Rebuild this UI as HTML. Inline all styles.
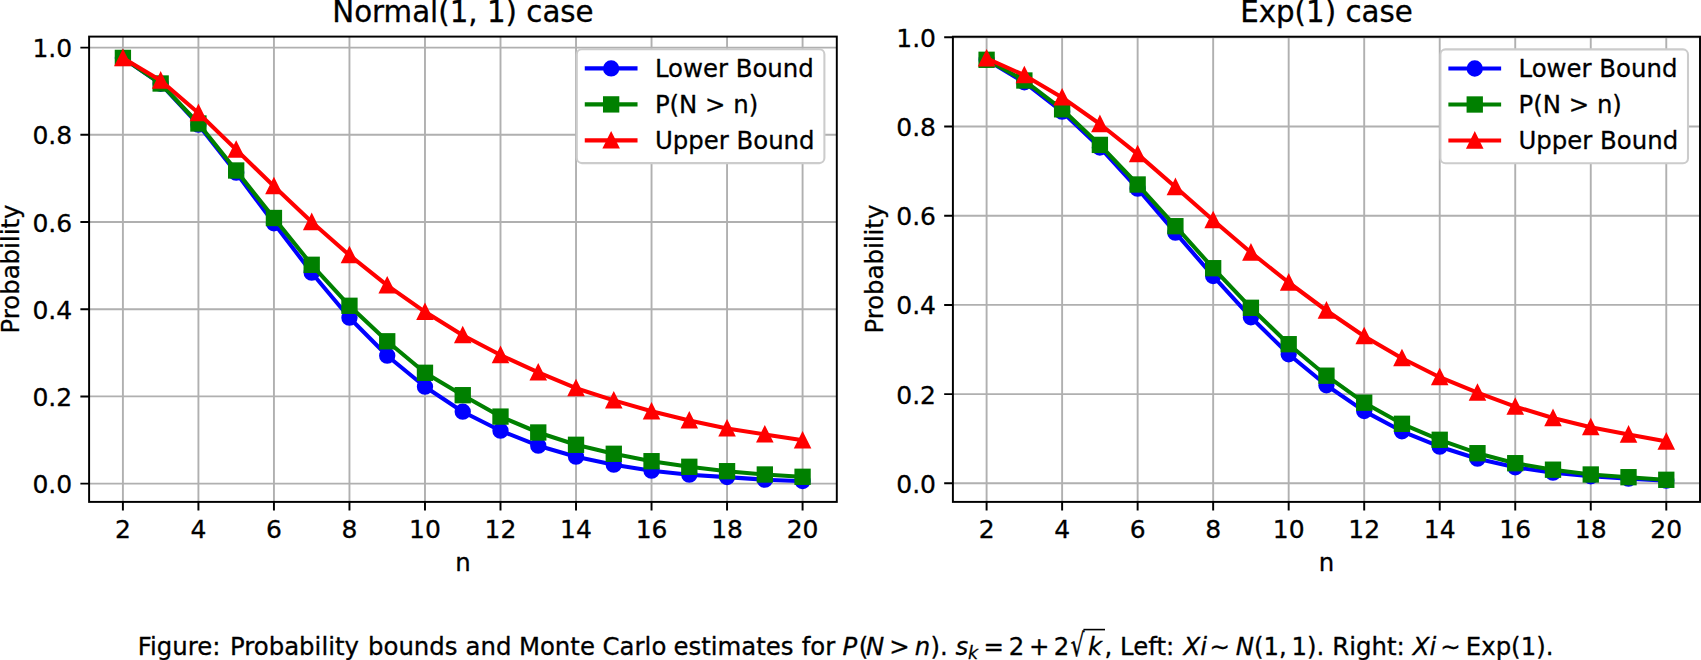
<!DOCTYPE html>
<html lang="en"><head><meta charset="utf-8"><title>Figure: Probability bounds and Monte Carlo estimates</title>
<style>
html,body{margin:0;padding:0;background:#fff;}
body{width:1701px;height:660px;overflow:hidden;}
svg{display:block;}
svg text{font-family:"DejaVu Sans", "Liberation Sans", sans-serif;fill:#000;stroke:#000;stroke-width:0.3px;stroke-linejoin:round;}
</style></head><body>
<svg width="1701" height="660" viewBox="0 0 1701 660">
<rect width="1701" height="660" fill="#fff"/>
<g id="axes-left">
<rect x="89.1" y="36.6" width="747.7" height="465.3" fill="#fff"/>
<path d="M122.9 36.6V501.9M198.42 36.6V501.9M273.94 36.6V501.9M349.46 36.6V501.9M424.98 36.6V501.9M500.5 36.6V501.9M576.02 36.6V501.9M651.54 36.6V501.9M727.06 36.6V501.9M802.58 36.6V501.9M89.1 483.6H836.8M89.1 396.4H836.8M89.1 309.2H836.8M89.1 222H836.8M89.1 134.8H836.8M89.1 47.6H836.8" stroke="#b0b0b0" stroke-width="1.9" fill="none"/>
<path d="M122.9 501.9v8.72M198.42 501.9v8.72M273.94 501.9v8.72M349.46 501.9v8.72M424.98 501.9v8.72M500.5 501.9v8.72M576.02 501.9v8.72M651.54 501.9v8.72M727.06 501.9v8.72M802.58 501.9v8.72M89.1 483.6h-8.72M89.1 396.4h-8.72M89.1 309.2h-8.72M89.1 222h-8.72M89.1 134.8h-8.72M89.1 47.6h-8.72" stroke="#000" stroke-width="1.95" fill="none"/>
<polyline points="122.9,57.9 160.66,83.8 198.42,124.7 236.18,172.7 273.94,223.3 311.7,272.7 349.46,317.7 387.22,355.7 424.98,386.7 462.74,411.7 500.5,430.7 538.26,445.7 576.02,456.7 613.78,464.7 651.54,470.7 689.3,474.7 727.06,477.1 764.82,479.7 802.58,481.1" fill="none" stroke="#0000ff" stroke-width="4.07" stroke-linejoin="round" stroke-linecap="square"/>
<circle cx="122.9" cy="57.9" r="7.15" fill="#0000ff" stroke="#0000ff" stroke-width="2.03"/>
<circle cx="160.66" cy="83.8" r="7.15" fill="#0000ff" stroke="#0000ff" stroke-width="2.03"/>
<circle cx="198.42" cy="124.7" r="7.15" fill="#0000ff" stroke="#0000ff" stroke-width="2.03"/>
<circle cx="236.18" cy="172.7" r="7.15" fill="#0000ff" stroke="#0000ff" stroke-width="2.03"/>
<circle cx="273.94" cy="223.3" r="7.15" fill="#0000ff" stroke="#0000ff" stroke-width="2.03"/>
<circle cx="311.7" cy="272.7" r="7.15" fill="#0000ff" stroke="#0000ff" stroke-width="2.03"/>
<circle cx="349.46" cy="317.7" r="7.15" fill="#0000ff" stroke="#0000ff" stroke-width="2.03"/>
<circle cx="387.22" cy="355.7" r="7.15" fill="#0000ff" stroke="#0000ff" stroke-width="2.03"/>
<circle cx="424.98" cy="386.7" r="7.15" fill="#0000ff" stroke="#0000ff" stroke-width="2.03"/>
<circle cx="462.74" cy="411.7" r="7.15" fill="#0000ff" stroke="#0000ff" stroke-width="2.03"/>
<circle cx="500.5" cy="430.7" r="7.15" fill="#0000ff" stroke="#0000ff" stroke-width="2.03"/>
<circle cx="538.26" cy="445.7" r="7.15" fill="#0000ff" stroke="#0000ff" stroke-width="2.03"/>
<circle cx="576.02" cy="456.7" r="7.15" fill="#0000ff" stroke="#0000ff" stroke-width="2.03"/>
<circle cx="613.78" cy="464.7" r="7.15" fill="#0000ff" stroke="#0000ff" stroke-width="2.03"/>
<circle cx="651.54" cy="470.7" r="7.15" fill="#0000ff" stroke="#0000ff" stroke-width="2.03"/>
<circle cx="689.3" cy="474.7" r="7.15" fill="#0000ff" stroke="#0000ff" stroke-width="2.03"/>
<circle cx="727.06" cy="477.1" r="7.15" fill="#0000ff" stroke="#0000ff" stroke-width="2.03"/>
<circle cx="764.82" cy="479.7" r="7.15" fill="#0000ff" stroke="#0000ff" stroke-width="2.03"/>
<circle cx="802.58" cy="481.1" r="7.15" fill="#0000ff" stroke="#0000ff" stroke-width="2.03"/>
<polyline points="122.9,57.9 160.66,83.5 198.42,123.5 236.18,170.5 273.94,218 311.7,264.8 349.46,305.8 387.22,341.3 424.98,372.8 462.74,395.2 500.5,416.6 538.26,432.5 576.02,444.8 613.78,453.8 651.54,461.2 689.3,466.8 727.06,471.2 764.82,474.5 802.58,476.8" fill="none" stroke="#008000" stroke-width="4.07" stroke-linejoin="round" stroke-linecap="square"/>
<rect x="115.75" y="50.75" width="14.3" height="14.3" fill="#008000" stroke="#008000" stroke-width="2.03" stroke-linejoin="miter"/>
<rect x="153.51" y="76.35" width="14.3" height="14.3" fill="#008000" stroke="#008000" stroke-width="2.03" stroke-linejoin="miter"/>
<rect x="191.27" y="116.35" width="14.3" height="14.3" fill="#008000" stroke="#008000" stroke-width="2.03" stroke-linejoin="miter"/>
<rect x="229.03" y="163.35" width="14.3" height="14.3" fill="#008000" stroke="#008000" stroke-width="2.03" stroke-linejoin="miter"/>
<rect x="266.79" y="210.85" width="14.3" height="14.3" fill="#008000" stroke="#008000" stroke-width="2.03" stroke-linejoin="miter"/>
<rect x="304.55" y="257.65" width="14.3" height="14.3" fill="#008000" stroke="#008000" stroke-width="2.03" stroke-linejoin="miter"/>
<rect x="342.31" y="298.65" width="14.3" height="14.3" fill="#008000" stroke="#008000" stroke-width="2.03" stroke-linejoin="miter"/>
<rect x="380.07" y="334.15" width="14.3" height="14.3" fill="#008000" stroke="#008000" stroke-width="2.03" stroke-linejoin="miter"/>
<rect x="417.83" y="365.65" width="14.3" height="14.3" fill="#008000" stroke="#008000" stroke-width="2.03" stroke-linejoin="miter"/>
<rect x="455.59" y="388.05" width="14.3" height="14.3" fill="#008000" stroke="#008000" stroke-width="2.03" stroke-linejoin="miter"/>
<rect x="493.35" y="409.45" width="14.3" height="14.3" fill="#008000" stroke="#008000" stroke-width="2.03" stroke-linejoin="miter"/>
<rect x="531.11" y="425.35" width="14.3" height="14.3" fill="#008000" stroke="#008000" stroke-width="2.03" stroke-linejoin="miter"/>
<rect x="568.87" y="437.65" width="14.3" height="14.3" fill="#008000" stroke="#008000" stroke-width="2.03" stroke-linejoin="miter"/>
<rect x="606.63" y="446.65" width="14.3" height="14.3" fill="#008000" stroke="#008000" stroke-width="2.03" stroke-linejoin="miter"/>
<rect x="644.39" y="454.05" width="14.3" height="14.3" fill="#008000" stroke="#008000" stroke-width="2.03" stroke-linejoin="miter"/>
<rect x="682.15" y="459.65" width="14.3" height="14.3" fill="#008000" stroke="#008000" stroke-width="2.03" stroke-linejoin="miter"/>
<rect x="719.91" y="464.05" width="14.3" height="14.3" fill="#008000" stroke="#008000" stroke-width="2.03" stroke-linejoin="miter"/>
<rect x="757.67" y="467.35" width="14.3" height="14.3" fill="#008000" stroke="#008000" stroke-width="2.03" stroke-linejoin="miter"/>
<rect x="795.43" y="469.65" width="14.3" height="14.3" fill="#008000" stroke="#008000" stroke-width="2.03" stroke-linejoin="miter"/>
<polyline points="122.9,58 160.66,80.5 198.42,113 236.18,149.6 273.94,186.2 311.7,222 349.46,255.2 387.22,285.4 424.98,311.8 462.74,335.2 500.5,355 538.26,372.4 576.02,388.2 613.78,400.4 651.54,411.3 689.3,420.4 727.06,428.4 764.82,434.4 802.58,440.3" fill="none" stroke="#ff0000" stroke-width="4.07" stroke-linejoin="round" stroke-linecap="square"/>
<path d="M122.9 50.85L115.75 65.15L130.05 65.15Z" fill="#ff0000" stroke="#ff0000" stroke-width="2.03" stroke-linejoin="miter" stroke-miterlimit="10"/>
<path d="M160.66 73.35L153.51 87.65L167.81 87.65Z" fill="#ff0000" stroke="#ff0000" stroke-width="2.03" stroke-linejoin="miter" stroke-miterlimit="10"/>
<path d="M198.42 105.85L191.27 120.15L205.57 120.15Z" fill="#ff0000" stroke="#ff0000" stroke-width="2.03" stroke-linejoin="miter" stroke-miterlimit="10"/>
<path d="M236.18 142.45L229.03 156.75L243.33 156.75Z" fill="#ff0000" stroke="#ff0000" stroke-width="2.03" stroke-linejoin="miter" stroke-miterlimit="10"/>
<path d="M273.94 179.05L266.79 193.35L281.09 193.35Z" fill="#ff0000" stroke="#ff0000" stroke-width="2.03" stroke-linejoin="miter" stroke-miterlimit="10"/>
<path d="M311.7 214.85L304.55 229.15L318.85 229.15Z" fill="#ff0000" stroke="#ff0000" stroke-width="2.03" stroke-linejoin="miter" stroke-miterlimit="10"/>
<path d="M349.46 248.05L342.31 262.35L356.61 262.35Z" fill="#ff0000" stroke="#ff0000" stroke-width="2.03" stroke-linejoin="miter" stroke-miterlimit="10"/>
<path d="M387.22 278.25L380.07 292.55L394.37 292.55Z" fill="#ff0000" stroke="#ff0000" stroke-width="2.03" stroke-linejoin="miter" stroke-miterlimit="10"/>
<path d="M424.98 304.65L417.83 318.95L432.13 318.95Z" fill="#ff0000" stroke="#ff0000" stroke-width="2.03" stroke-linejoin="miter" stroke-miterlimit="10"/>
<path d="M462.74 328.05L455.59 342.35L469.89 342.35Z" fill="#ff0000" stroke="#ff0000" stroke-width="2.03" stroke-linejoin="miter" stroke-miterlimit="10"/>
<path d="M500.5 347.85L493.35 362.15L507.65 362.15Z" fill="#ff0000" stroke="#ff0000" stroke-width="2.03" stroke-linejoin="miter" stroke-miterlimit="10"/>
<path d="M538.26 365.25L531.11 379.55L545.41 379.55Z" fill="#ff0000" stroke="#ff0000" stroke-width="2.03" stroke-linejoin="miter" stroke-miterlimit="10"/>
<path d="M576.02 381.05L568.87 395.35L583.17 395.35Z" fill="#ff0000" stroke="#ff0000" stroke-width="2.03" stroke-linejoin="miter" stroke-miterlimit="10"/>
<path d="M613.78 393.25L606.63 407.55L620.93 407.55Z" fill="#ff0000" stroke="#ff0000" stroke-width="2.03" stroke-linejoin="miter" stroke-miterlimit="10"/>
<path d="M651.54 404.15L644.39 418.45L658.69 418.45Z" fill="#ff0000" stroke="#ff0000" stroke-width="2.03" stroke-linejoin="miter" stroke-miterlimit="10"/>
<path d="M689.3 413.25L682.15 427.55L696.45 427.55Z" fill="#ff0000" stroke="#ff0000" stroke-width="2.03" stroke-linejoin="miter" stroke-miterlimit="10"/>
<path d="M727.06 421.25L719.91 435.55L734.21 435.55Z" fill="#ff0000" stroke="#ff0000" stroke-width="2.03" stroke-linejoin="miter" stroke-miterlimit="10"/>
<path d="M764.82 427.25L757.67 441.55L771.97 441.55Z" fill="#ff0000" stroke="#ff0000" stroke-width="2.03" stroke-linejoin="miter" stroke-miterlimit="10"/>
<path d="M802.58 433.15L795.43 447.45L809.73 447.45Z" fill="#ff0000" stroke="#ff0000" stroke-width="2.03" stroke-linejoin="miter" stroke-miterlimit="10"/>
<rect x="89.1" y="36.6" width="747.7" height="465.3" fill="none" stroke="#000" stroke-width="1.95" stroke-linejoin="miter"/>
<text x="122.9" y="537.7" font-size="25" text-anchor="middle">2</text>
<text x="198.42" y="537.7" font-size="25" text-anchor="middle">4</text>
<text x="273.94" y="537.7" font-size="25" text-anchor="middle">6</text>
<text x="349.46" y="537.7" font-size="25" text-anchor="middle">8</text>
<text x="424.98" y="537.7" font-size="25" text-anchor="middle">10</text>
<text x="500.5" y="537.7" font-size="25" text-anchor="middle">12</text>
<text x="576.02" y="537.7" font-size="25" text-anchor="middle">14</text>
<text x="651.54" y="537.7" font-size="25" text-anchor="middle">16</text>
<text x="727.06" y="537.7" font-size="25" text-anchor="middle">18</text>
<text x="802.58" y="537.7" font-size="25" text-anchor="middle">20</text>
<text x="72.2" y="493.1" font-size="25" text-anchor="end">0.0</text>
<text x="72.2" y="405.9" font-size="25" text-anchor="end">0.2</text>
<text x="72.2" y="318.7" font-size="25" text-anchor="end">0.4</text>
<text x="72.2" y="231.5" font-size="25" text-anchor="end">0.6</text>
<text x="72.2" y="144.3" font-size="25" text-anchor="end">0.8</text>
<text x="72.2" y="57.1" font-size="25" text-anchor="end">1.0</text>
<text x="462.95" y="571" font-size="24.4" text-anchor="middle">n</text>
<text x="462.95" y="22.2" font-size="29.3" text-anchor="middle">Normal(1, 1) case</text>
<text transform="translate(18.8 269.05) rotate(-90)" font-size="24.4" text-anchor="middle">Probability</text>
<rect x="576.8" y="49.3" width="247.6" height="113.8" rx="5" ry="5" fill="#fff" stroke="#ccc" stroke-width="2.08"/>
<line x1="586.8" y1="68.4" x2="635.5" y2="68.4" stroke="#0000ff" stroke-width="4.07" stroke-linecap="square"/>
<circle cx="611.15" cy="68.4" r="7.15" fill="#0000ff" stroke="#0000ff" stroke-width="2.03"/>
<text x="654.9" y="77.1" font-size="24.4">Lower Bound</text>
<line x1="586.8" y1="104.4" x2="635.5" y2="104.4" stroke="#008000" stroke-width="4.07" stroke-linecap="square"/>
<rect x="604" y="97.25" width="14.3" height="14.3" fill="#008000" stroke="#008000" stroke-width="2.03" stroke-linejoin="miter"/>
<text x="654.9" y="113.1" font-size="24.4">P(N &gt; n)</text>
<line x1="586.8" y1="140.4" x2="635.5" y2="140.4" stroke="#ff0000" stroke-width="4.07" stroke-linecap="square"/>
<path d="M611.15 133.25L604 147.55L618.3 147.55Z" fill="#ff0000" stroke="#ff0000" stroke-width="2.03" stroke-linejoin="miter" stroke-miterlimit="10"/>
<text x="654.9" y="149.1" font-size="24.4">Upper Bound</text>
</g>
<g id="axes-right">
<rect x="952.9" y="36.7" width="747.1" height="465.2" fill="#fff"/>
<path d="M986.6 36.7V501.9M1062.12 36.7V501.9M1137.64 36.7V501.9M1213.16 36.7V501.9M1288.68 36.7V501.9M1364.2 36.7V501.9M1439.72 36.7V501.9M1515.24 36.7V501.9M1590.76 36.7V501.9M1666.28 36.7V501.9M952.9 483.3H1700M952.9 394.1H1700M952.9 304.9H1700M952.9 215.7H1700M952.9 126.5H1700M952.9 37.3H1700" stroke="#b0b0b0" stroke-width="1.9" fill="none"/>
<path d="M986.6 501.9v8.72M1062.12 501.9v8.72M1137.64 501.9v8.72M1213.16 501.9v8.72M1288.68 501.9v8.72M1364.2 501.9v8.72M1439.72 501.9v8.72M1515.24 501.9v8.72M1590.76 501.9v8.72M1666.28 501.9v8.72M952.9 483.3h-8.72M952.9 394.1h-8.72M952.9 304.9h-8.72M952.9 215.7h-8.72M952.9 126.5h-8.72M952.9 37.3h-8.72" stroke="#000" stroke-width="1.95" fill="none"/>
<polyline points="986.6,59.8 1024.36,82.3 1062.12,111.7 1099.88,147.5 1137.64,188.7 1175.4,232.7 1213.16,276.1 1250.92,317.3 1288.68,354.3 1326.44,385.3 1364.2,411.1 1401.96,431.3 1439.72,446.7 1477.48,458.7 1515.24,467.3 1553,472.7 1590.76,476.3 1628.52,478.7 1666.28,480.7" fill="none" stroke="#0000ff" stroke-width="4.07" stroke-linejoin="round" stroke-linecap="square"/>
<circle cx="986.6" cy="59.8" r="7.15" fill="#0000ff" stroke="#0000ff" stroke-width="2.03"/>
<circle cx="1024.36" cy="82.3" r="7.15" fill="#0000ff" stroke="#0000ff" stroke-width="2.03"/>
<circle cx="1062.12" cy="111.7" r="7.15" fill="#0000ff" stroke="#0000ff" stroke-width="2.03"/>
<circle cx="1099.88" cy="147.5" r="7.15" fill="#0000ff" stroke="#0000ff" stroke-width="2.03"/>
<circle cx="1137.64" cy="188.7" r="7.15" fill="#0000ff" stroke="#0000ff" stroke-width="2.03"/>
<circle cx="1175.4" cy="232.7" r="7.15" fill="#0000ff" stroke="#0000ff" stroke-width="2.03"/>
<circle cx="1213.16" cy="276.1" r="7.15" fill="#0000ff" stroke="#0000ff" stroke-width="2.03"/>
<circle cx="1250.92" cy="317.3" r="7.15" fill="#0000ff" stroke="#0000ff" stroke-width="2.03"/>
<circle cx="1288.68" cy="354.3" r="7.15" fill="#0000ff" stroke="#0000ff" stroke-width="2.03"/>
<circle cx="1326.44" cy="385.3" r="7.15" fill="#0000ff" stroke="#0000ff" stroke-width="2.03"/>
<circle cx="1364.2" cy="411.1" r="7.15" fill="#0000ff" stroke="#0000ff" stroke-width="2.03"/>
<circle cx="1401.96" cy="431.3" r="7.15" fill="#0000ff" stroke="#0000ff" stroke-width="2.03"/>
<circle cx="1439.72" cy="446.7" r="7.15" fill="#0000ff" stroke="#0000ff" stroke-width="2.03"/>
<circle cx="1477.48" cy="458.7" r="7.15" fill="#0000ff" stroke="#0000ff" stroke-width="2.03"/>
<circle cx="1515.24" cy="467.3" r="7.15" fill="#0000ff" stroke="#0000ff" stroke-width="2.03"/>
<circle cx="1553" cy="472.7" r="7.15" fill="#0000ff" stroke="#0000ff" stroke-width="2.03"/>
<circle cx="1590.76" cy="476.3" r="7.15" fill="#0000ff" stroke="#0000ff" stroke-width="2.03"/>
<circle cx="1628.52" cy="478.7" r="7.15" fill="#0000ff" stroke="#0000ff" stroke-width="2.03"/>
<circle cx="1666.28" cy="480.7" r="7.15" fill="#0000ff" stroke="#0000ff" stroke-width="2.03"/>
<polyline points="986.6,59.8 1024.36,80.5 1062.12,109.3 1099.88,144.9 1137.64,184.5 1175.4,226.2 1213.16,268.2 1250.92,307.8 1288.68,344.2 1326.44,375.7 1364.2,402.7 1401.96,423.8 1439.72,439.8 1477.48,453.2 1515.24,463.2 1553,469.7 1590.76,474.5 1628.52,477.2 1666.28,479.8" fill="none" stroke="#008000" stroke-width="4.07" stroke-linejoin="round" stroke-linecap="square"/>
<rect x="979.45" y="52.65" width="14.3" height="14.3" fill="#008000" stroke="#008000" stroke-width="2.03" stroke-linejoin="miter"/>
<rect x="1017.21" y="73.35" width="14.3" height="14.3" fill="#008000" stroke="#008000" stroke-width="2.03" stroke-linejoin="miter"/>
<rect x="1054.97" y="102.15" width="14.3" height="14.3" fill="#008000" stroke="#008000" stroke-width="2.03" stroke-linejoin="miter"/>
<rect x="1092.73" y="137.75" width="14.3" height="14.3" fill="#008000" stroke="#008000" stroke-width="2.03" stroke-linejoin="miter"/>
<rect x="1130.49" y="177.35" width="14.3" height="14.3" fill="#008000" stroke="#008000" stroke-width="2.03" stroke-linejoin="miter"/>
<rect x="1168.25" y="219.05" width="14.3" height="14.3" fill="#008000" stroke="#008000" stroke-width="2.03" stroke-linejoin="miter"/>
<rect x="1206.01" y="261.05" width="14.3" height="14.3" fill="#008000" stroke="#008000" stroke-width="2.03" stroke-linejoin="miter"/>
<rect x="1243.77" y="300.65" width="14.3" height="14.3" fill="#008000" stroke="#008000" stroke-width="2.03" stroke-linejoin="miter"/>
<rect x="1281.53" y="337.05" width="14.3" height="14.3" fill="#008000" stroke="#008000" stroke-width="2.03" stroke-linejoin="miter"/>
<rect x="1319.29" y="368.55" width="14.3" height="14.3" fill="#008000" stroke="#008000" stroke-width="2.03" stroke-linejoin="miter"/>
<rect x="1357.05" y="395.55" width="14.3" height="14.3" fill="#008000" stroke="#008000" stroke-width="2.03" stroke-linejoin="miter"/>
<rect x="1394.81" y="416.65" width="14.3" height="14.3" fill="#008000" stroke="#008000" stroke-width="2.03" stroke-linejoin="miter"/>
<rect x="1432.57" y="432.65" width="14.3" height="14.3" fill="#008000" stroke="#008000" stroke-width="2.03" stroke-linejoin="miter"/>
<rect x="1470.33" y="446.05" width="14.3" height="14.3" fill="#008000" stroke="#008000" stroke-width="2.03" stroke-linejoin="miter"/>
<rect x="1508.09" y="456.05" width="14.3" height="14.3" fill="#008000" stroke="#008000" stroke-width="2.03" stroke-linejoin="miter"/>
<rect x="1545.85" y="462.55" width="14.3" height="14.3" fill="#008000" stroke="#008000" stroke-width="2.03" stroke-linejoin="miter"/>
<rect x="1583.61" y="467.35" width="14.3" height="14.3" fill="#008000" stroke="#008000" stroke-width="2.03" stroke-linejoin="miter"/>
<rect x="1621.37" y="470.05" width="14.3" height="14.3" fill="#008000" stroke="#008000" stroke-width="2.03" stroke-linejoin="miter"/>
<rect x="1659.13" y="472.65" width="14.3" height="14.3" fill="#008000" stroke="#008000" stroke-width="2.03" stroke-linejoin="miter"/>
<polyline points="986.6,58.4 1024.36,75.2 1062.12,97.4 1099.88,124 1137.64,154.1 1175.4,187 1213.16,220.2 1250.92,252.5 1288.68,282.5 1326.44,310.5 1364.2,336.2 1401.96,358.2 1439.72,377.2 1477.48,392.7 1515.24,406.6 1553,418 1590.76,427.2 1628.52,434.5 1666.28,441.5" fill="none" stroke="#ff0000" stroke-width="4.07" stroke-linejoin="round" stroke-linecap="square"/>
<path d="M986.6 51.25L979.45 65.55L993.75 65.55Z" fill="#ff0000" stroke="#ff0000" stroke-width="2.03" stroke-linejoin="miter" stroke-miterlimit="10"/>
<path d="M1024.36 68.05L1017.21 82.35L1031.51 82.35Z" fill="#ff0000" stroke="#ff0000" stroke-width="2.03" stroke-linejoin="miter" stroke-miterlimit="10"/>
<path d="M1062.12 90.25L1054.97 104.55L1069.27 104.55Z" fill="#ff0000" stroke="#ff0000" stroke-width="2.03" stroke-linejoin="miter" stroke-miterlimit="10"/>
<path d="M1099.88 116.85L1092.73 131.15L1107.03 131.15Z" fill="#ff0000" stroke="#ff0000" stroke-width="2.03" stroke-linejoin="miter" stroke-miterlimit="10"/>
<path d="M1137.64 146.95L1130.49 161.25L1144.79 161.25Z" fill="#ff0000" stroke="#ff0000" stroke-width="2.03" stroke-linejoin="miter" stroke-miterlimit="10"/>
<path d="M1175.4 179.85L1168.25 194.15L1182.55 194.15Z" fill="#ff0000" stroke="#ff0000" stroke-width="2.03" stroke-linejoin="miter" stroke-miterlimit="10"/>
<path d="M1213.16 213.05L1206.01 227.35L1220.31 227.35Z" fill="#ff0000" stroke="#ff0000" stroke-width="2.03" stroke-linejoin="miter" stroke-miterlimit="10"/>
<path d="M1250.92 245.35L1243.77 259.65L1258.07 259.65Z" fill="#ff0000" stroke="#ff0000" stroke-width="2.03" stroke-linejoin="miter" stroke-miterlimit="10"/>
<path d="M1288.68 275.35L1281.53 289.65L1295.83 289.65Z" fill="#ff0000" stroke="#ff0000" stroke-width="2.03" stroke-linejoin="miter" stroke-miterlimit="10"/>
<path d="M1326.44 303.35L1319.29 317.65L1333.59 317.65Z" fill="#ff0000" stroke="#ff0000" stroke-width="2.03" stroke-linejoin="miter" stroke-miterlimit="10"/>
<path d="M1364.2 329.05L1357.05 343.35L1371.35 343.35Z" fill="#ff0000" stroke="#ff0000" stroke-width="2.03" stroke-linejoin="miter" stroke-miterlimit="10"/>
<path d="M1401.96 351.05L1394.81 365.35L1409.11 365.35Z" fill="#ff0000" stroke="#ff0000" stroke-width="2.03" stroke-linejoin="miter" stroke-miterlimit="10"/>
<path d="M1439.72 370.05L1432.57 384.35L1446.87 384.35Z" fill="#ff0000" stroke="#ff0000" stroke-width="2.03" stroke-linejoin="miter" stroke-miterlimit="10"/>
<path d="M1477.48 385.55L1470.33 399.85L1484.63 399.85Z" fill="#ff0000" stroke="#ff0000" stroke-width="2.03" stroke-linejoin="miter" stroke-miterlimit="10"/>
<path d="M1515.24 399.45L1508.09 413.75L1522.39 413.75Z" fill="#ff0000" stroke="#ff0000" stroke-width="2.03" stroke-linejoin="miter" stroke-miterlimit="10"/>
<path d="M1553 410.85L1545.85 425.15L1560.15 425.15Z" fill="#ff0000" stroke="#ff0000" stroke-width="2.03" stroke-linejoin="miter" stroke-miterlimit="10"/>
<path d="M1590.76 420.05L1583.61 434.35L1597.91 434.35Z" fill="#ff0000" stroke="#ff0000" stroke-width="2.03" stroke-linejoin="miter" stroke-miterlimit="10"/>
<path d="M1628.52 427.35L1621.37 441.65L1635.67 441.65Z" fill="#ff0000" stroke="#ff0000" stroke-width="2.03" stroke-linejoin="miter" stroke-miterlimit="10"/>
<path d="M1666.28 434.35L1659.13 448.65L1673.43 448.65Z" fill="#ff0000" stroke="#ff0000" stroke-width="2.03" stroke-linejoin="miter" stroke-miterlimit="10"/>
<rect x="952.9" y="36.7" width="747.1" height="465.2" fill="none" stroke="#000" stroke-width="1.95" stroke-linejoin="miter"/>
<text x="986.6" y="537.7" font-size="25" text-anchor="middle">2</text>
<text x="1062.12" y="537.7" font-size="25" text-anchor="middle">4</text>
<text x="1137.64" y="537.7" font-size="25" text-anchor="middle">6</text>
<text x="1213.16" y="537.7" font-size="25" text-anchor="middle">8</text>
<text x="1288.68" y="537.7" font-size="25" text-anchor="middle">10</text>
<text x="1364.2" y="537.7" font-size="25" text-anchor="middle">12</text>
<text x="1439.72" y="537.7" font-size="25" text-anchor="middle">14</text>
<text x="1515.24" y="537.7" font-size="25" text-anchor="middle">16</text>
<text x="1590.76" y="537.7" font-size="25" text-anchor="middle">18</text>
<text x="1666.28" y="537.7" font-size="25" text-anchor="middle">20</text>
<text x="936" y="492.8" font-size="25" text-anchor="end">0.0</text>
<text x="936" y="403.6" font-size="25" text-anchor="end">0.2</text>
<text x="936" y="314.4" font-size="25" text-anchor="end">0.4</text>
<text x="936" y="225.2" font-size="25" text-anchor="end">0.6</text>
<text x="936" y="136" font-size="25" text-anchor="end">0.8</text>
<text x="936" y="46.8" font-size="25" text-anchor="end">1.0</text>
<text x="1326.45" y="571" font-size="24.4" text-anchor="middle">n</text>
<text x="1326.45" y="22.2" font-size="29.3" text-anchor="middle">Exp(1) case</text>
<text transform="translate(882.6 269.1) rotate(-90)" font-size="24.4" text-anchor="middle">Probability</text>
<rect x="1440.4" y="49.4" width="247.6" height="113.8" rx="5" ry="5" fill="#fff" stroke="#ccc" stroke-width="2.08"/>
<line x1="1450.4" y1="68.5" x2="1499.1" y2="68.5" stroke="#0000ff" stroke-width="4.07" stroke-linecap="square"/>
<circle cx="1474.75" cy="68.5" r="7.15" fill="#0000ff" stroke="#0000ff" stroke-width="2.03"/>
<text x="1518.5" y="77.2" font-size="24.4">Lower Bound</text>
<line x1="1450.4" y1="104.5" x2="1499.1" y2="104.5" stroke="#008000" stroke-width="4.07" stroke-linecap="square"/>
<rect x="1467.6" y="97.35" width="14.3" height="14.3" fill="#008000" stroke="#008000" stroke-width="2.03" stroke-linejoin="miter"/>
<text x="1518.5" y="113.2" font-size="24.4">P(N &gt; n)</text>
<line x1="1450.4" y1="140.5" x2="1499.1" y2="140.5" stroke="#ff0000" stroke-width="4.07" stroke-linecap="square"/>
<path d="M1474.75 133.35L1467.6 147.65L1481.9 147.65Z" fill="#ff0000" stroke="#ff0000" stroke-width="2.03" stroke-linejoin="miter" stroke-miterlimit="10"/>
<text x="1518.5" y="149.2" font-size="24.4">Upper Bound</text>
</g>
<g id="caption">
<text x="137.7" y="654.7" font-size="24.4" >Figure:</text>
<text x="230" y="654.7" font-size="24.4" >Probability</text>
<text x="368" y="654.7" font-size="24.4" >bounds</text>
<text x="465.5" y="654.7" font-size="24.4" >and</text>
<text x="518.9" y="654.7" font-size="24.4" >Monte</text>
<text x="602.6" y="654.7" font-size="24.4" >Carlo</text>
<text x="673.5" y="654.7" font-size="24.4" >estimates</text>
<text x="801.7" y="654.7" font-size="24.4" >for</text>
<text x="842.5" y="654.7" font-size="24.4" font-style="italic">P</text>
<text x="858.7" y="654.7" font-size="24.4" >(</text>
<text x="866" y="654.7" font-size="24.4" font-style="italic">N</text>
<text x="889.2" y="654.7" font-size="24.4" >&gt;</text>
<text x="914.7" y="654.7" font-size="24.4" font-style="italic">n</text>
<text x="930.4" y="654.7" font-size="24.4" >).</text>
<text x="955.5" y="654.7" font-size="24.4" font-style="italic">s</text>
<text x="983.6" y="654.7" font-size="24.4" >=</text>
<text x="1008.8" y="654.7" font-size="24.4" >2</text>
<text x="1029" y="654.7" font-size="24.4" >+</text>
<text x="1053.8" y="654.7" font-size="24.4" >2</text>
<text x="1087.9" y="654.7" font-size="24.4" font-style="italic">k</text>
<text x="1104.6" y="654.7" font-size="24.4" >, Left:</text>
<text x="1183.5" y="654.7" font-size="24.4" font-style="italic">Xi</text>
<text x="1209.5" y="654.7" font-size="24.4" >∼</text>
<text x="1235.8" y="654.7" font-size="24.4" font-style="italic">N</text>
<text x="1254" y="654.7" font-size="24.4" >(1,</text>
<text x="1291.5" y="654.7" font-size="24.4" >1).</text>
<text x="1332.3" y="654.7" font-size="24.4" >Right:</text>
<text x="1412.8" y="654.7" font-size="24.4" font-style="italic">Xi</text>
<text x="1440.2" y="654.7" font-size="24.4" >∼</text>
<text x="1465.8" y="654.7" font-size="24.4" >Exp(1).</text>
<text x="968.1" y="658.5" font-size="17.4" font-style="italic">k</text>
<text transform="translate(1070.6 655.5) scale(0.9 1.3)" font-size="24.4">√</text>
<line x1="1083.4" y1="629.6" x2="1105" y2="629.6" stroke="#000" stroke-width="1.6"/>
</g>
</svg>
</body></html>
